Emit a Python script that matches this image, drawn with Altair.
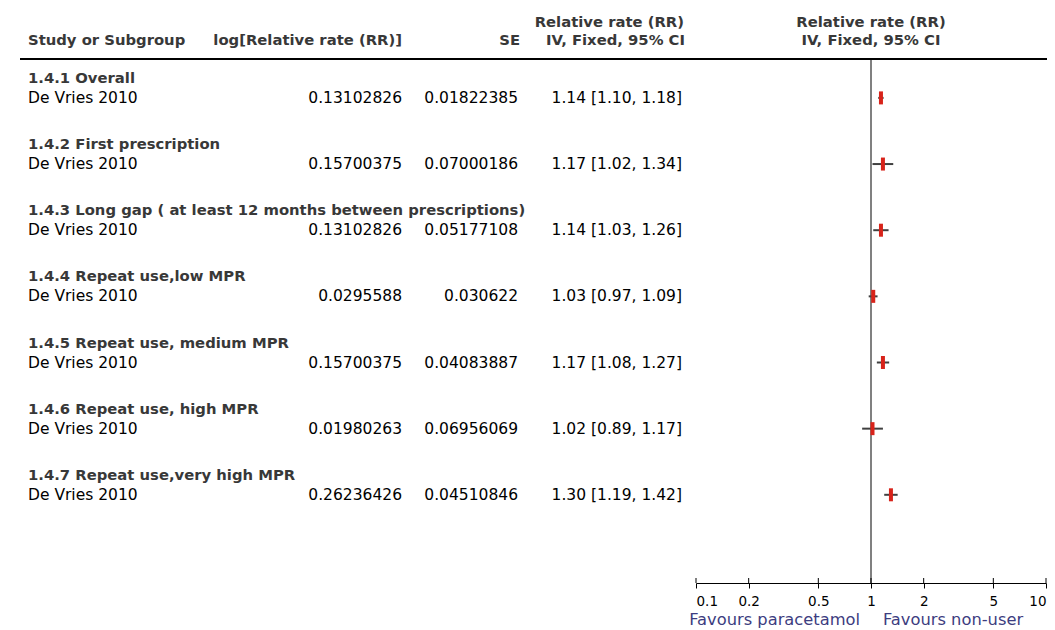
import altair as alt
import pandas as pd

# ---------------- data ----------------
headings = [
    "1.4.1 Overall",
    "1.4.2 First prescription",
    "1.4.3 Long gap ( at least 12 months between prescriptions)",
    "1.4.4 Repeat use,low MPR",
    "1.4.5 Repeat use, medium MPR",
    "1.4.6 Repeat use, high MPR",
    "1.4.7 Repeat use,very high MPR",
]
studies = ["De Vries 2010"] * 7
log_rr = ["0.13102826", "0.15700375", "0.13102826", "0.0295588",
          "0.15700375", "0.01980263", "0.26236426"]
se_vals = ["0.01822385", "0.07000186", "0.05177108", "0.030622",
           "0.04083887", "0.06956069", "0.04510846"]
rr = [1.14, 1.17, 1.14, 1.03, 1.17, 1.02, 1.30]
ci_low = [1.10, 1.02, 1.03, 0.97, 1.08, 0.89, 1.19]
ci_high = [1.18, 1.34, 1.26, 1.09, 1.27, 1.17, 1.42]
tick_values = [0.1, 0.2, 0.5, 1, 2, 5, 10]

rows = []
for g in range(len(headings)):
    rows.append(dict(pos=3.5 * g, kind="head", label=headings[g]))
    rows.append(dict(pos=3.5 * g + 1, kind="study", label=studies[g],
                     logrr=log_rr[g], se=se_vals[g], rr=rr[g],
                     lo=ci_low[g], hi=ci_high[g],
                     ci=f"{rr[g]:.2f} [{ci_low[g]:.2f}, {ci_high[g]:.2f}]"))
df = pd.DataFrame(rows)
heads = df[df.kind == "head"]
st = df[df.kind == "study"]

# ---------------- layout ----------------
W, H = 1039, 575
ROW = 18.9
TOP = 71
FONT = "DejaVu Sans"
FS = 15.5
FSB = 14.8
HEAD_COL = "#383838"

yscale = alt.Scale(domain=[-TOP / ROW, (H - TOP) / ROW], reverse=True,
                   nice=False, zero=False)
Y = alt.Y("pos:Q", scale=yscale, axis=None)
xs = alt.Scale(type="log", domain=[0.1, 10], range=[688, 1038], nice=False)
xaxis = alt.Axis(values=tick_values, format="~g", tickSize=5, labelPadding=6,
                 labelFontSize=13.5, labelFont=FONT, labelColor="#000",
                 domainColor="#000", tickColor="#000", grid=False, title=None,
                 labelFlush=True, labelOverlap=False)

vline = alt.Chart(pd.DataFrame({"v": [1]})).mark_rule(
    color="#808080", strokeWidth=2).encode(
    x=alt.X("v:Q", scale=xs, axis=xaxis), y=alt.value(52), y2=alt.value(575))

upticks = alt.Chart(pd.DataFrame({"t": tick_values})).mark_rule(
    color="#000", strokeWidth=1).encode(
    x=alt.X("t:Q", scale=xs, axis=xaxis), y=alt.value(570), y2=alt.value(575))

hrule = alt.Chart(pd.DataFrame({"a": [0]})).mark_rule(
    color="#000", strokeWidth=2).encode(
    x=alt.value(12), x2=alt.value(W), y=alt.value(51))

ci_lines = alt.Chart(st).mark_rule(color="#404040", strokeWidth=2).encode(
    x=alt.X("lo:Q", scale=xs, axis=xaxis), x2="hi:Q", y=Y)

markers = alt.Chart(st).mark_tick(
    orient="vertical", color="#d8231a", size=13, thickness=4,
    opacity=1).encode(
    x=alt.X("rr:Q", scale=xs, axis=xaxis), y=Y)


def txt(data, field, x, align, bold=False, color="#000"):
    return alt.Chart(data).mark_text(
        align=align, baseline="middle", font=FONT,
        fontSize=FSB if bold else FS,
        fontWeight="bold" if bold else "normal", color=color).encode(
        x=alt.value(x), y=Y, text=f"{field}:N")


head_txt = txt(heads, "label", 20, "left", bold=True, color=HEAD_COL)
study_txt = txt(st, "label", 20, "left")
logrr_txt = txt(st, "logrr", 394, "right")
se_txt = txt(st, "se", 510, "right")
ci_txt = txt(st, "ci", 674, "right")

hdr = pd.DataFrame({
    "text": ["Study or Subgroup", "log[Relative rate (RR)]", "SE",
             "Relative rate (RR)", "IV, Fixed, 95% CI"],
    "x": [20, 394, 512, 676, 677],
    "y": [33, 33, 33, 15, 33],
    "align": ["left", "right", "right", "right", "right"],
})
header_layers = []
for _, r in hdr.iterrows():
    header_layers.append(
        alt.Chart(pd.DataFrame({"text": [r["text"]]})).mark_text(
            align=r["align"], baseline="middle", font=FONT, fontSize=FSB,
            fontWeight="bold", color=HEAD_COL).encode(
            x=alt.value(int(r["x"])), y=alt.value(int(r["y"])), text="text:N"))

right_hdr = pd.DataFrame({"text": ["Relative rate (RR)", "IV, Fixed, 95% CI"],
                          "yy": [15, 33]})
for _, r in right_hdr.iterrows():
    header_layers.append(
        alt.Chart(pd.DataFrame({"text": [r["text"]], "v": [1]})).mark_text(
            align="center", baseline="middle", font=FONT, fontSize=FSB,
            fontWeight="bold", color=HEAD_COL).encode(
            x=alt.X("v:Q", scale=xs, axis=xaxis), y=alt.value(int(r["yy"])),
            text="text:N"))

fav = pd.DataFrame({"text": ["Favours paracetamol", "Favours non-user"],
                    "v": [1, 1], "side": ["l", "r"]})
fav_l = alt.Chart(fav[fav.side == "l"]).mark_text(
    align="right", baseline="middle", font=FONT, fontSize=16.3, dx=-11,
    color="#3d3d80").encode(
    x=alt.X("v:Q", scale=xs, axis=xaxis), y=alt.value(612), text="text:N")
fav_r = alt.Chart(fav[fav.side == "r"]).mark_text(
    align="left", baseline="middle", font=FONT, fontSize=16.3, dx=12,
    color="#3d3d80").encode(
    x=alt.X("v:Q", scale=xs, axis=xaxis), y=alt.value(612), text="text:N")

chart = alt.layer(
    vline, upticks, hrule, ci_lines, markers,
    head_txt, study_txt, logrr_txt, se_txt, ci_txt,
    *header_layers, fav_l, fav_r,
).properties(
    width=W, height=H,
    background="white",
    autosize=alt.AutoSizeParams(type="none"),
    padding={"left": 0, "top": 0, "right": 0, "bottom": 45},
).configure_view(strokeWidth=0, stroke=None)

chart.save("out.html", embed_options={"renderer": "svg", "actions": False})
